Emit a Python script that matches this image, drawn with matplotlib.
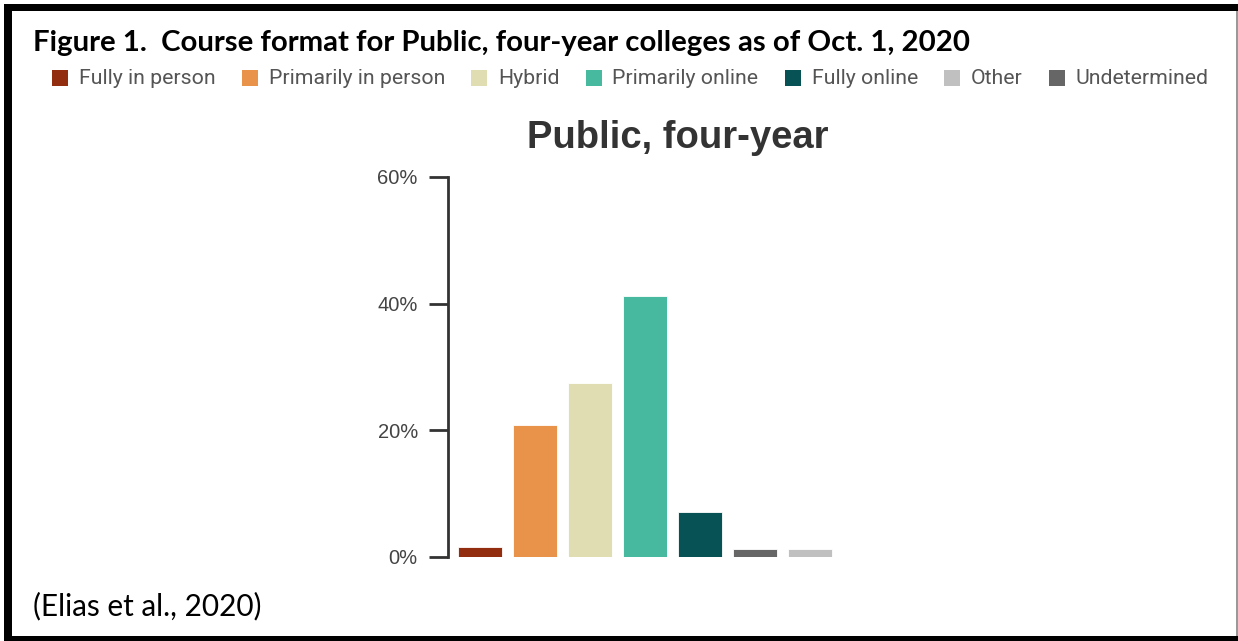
import numpy as np
import matplotlib
matplotlib.use("Agg")
import matplotlib.pyplot as plt
from matplotlib.patches import Rectangle

# data
categories = ["Fully in person", "Primarily in person", "Hybrid", "Primarily online",
              "Fully online", "Undetermined", "Other"]
values = [1.6, 20.8, 27.5, 41.2, 7.1, 1.3, 1.3]
bar_colors = ["#922e0f", "#e8924a", "#e0ddb2", "#46b99e", "#065254", "#666666", "#c0c0c0"]

legend_labels = ["Fully in person", "Primarily in person", "Hybrid", "Primarily online",
                 "Fully online", "Other", "Undetermined"]
legend_colors = ["#922e0f", "#e8924a", "#e0ddb2", "#46b99e", "#065254", "#c0c0c0", "#666666"]

yticks = [0, 20, 40, 60]

W, H = 1238, 641
fig = plt.figure(figsize=(W / 100, H / 100), dpi=100)


def px(x, y):
    # pixel coords (top-left origin) -> figure fraction
    return x / W, 1 - y / H


def frame(x0, y0, x1, y1, color):
    fig.patches.append(Rectangle((x0 / W, 1 - y1 / H), (x1 - x0) / W, (y1 - y0) / H,
                                 transform=fig.transFigure, color=color, lw=0))


# black frame around the figure
frame(4, 4, 1238, 11, "black")
frame(4, 4, 12, 641, "black")
frame(4, 636, 1238, 641, "black")
frame(1236, 11, 1238, 636, "#999999")

# heading and source line
fig.text(*px(33, 43), "Figure 1.  Course format for Public, four-year colleges as of Oct. 1, 2020",
         family="Lato", weight="bold", fontsize=21.2, va="center", ha="left", color="black")
fig.text(*px(33, 606), "(Elias et al., 2020)", family="Lato", fontsize=21.4,
         va="center", ha="left", color="black")

# legend row, placed item by item
fig.canvas.draw()
renderer = fig.canvas.get_renderer()
x = 52
yc = 78
sq = 16
for lab, col in zip(legend_labels, legend_colors):
    frame(x, yc - sq / 2, x + sq, yc + sq / 2, col)
    t = fig.text(*px(x + sq + 11, yc + 1), lab, family="Roboto", fontsize=15.3,
                 color="#555555", va="center", ha="left")
    bb = t.get_window_extent(renderer)
    x = x + sq + 11 + bb.width + 26

# bar chart
ax = fig.add_axes([448 / W, 1 - 557 / H, 389 / W, 380 / H])
xpos = np.arange(len(categories))
ax.bar(xpos, values, width=0.8, color=bar_colors, edgecolor="white", linewidth=0.6)
ax.set_xlim(-0.58, 6.5)
ax.set_ylim(0, 60)
ax.set_yticks(yticks)
ax.set_yticklabels([f"{v}%" for v in yticks], family="Liberation Sans",
                   fontsize=14.5, color="#444444")
ax.tick_params(axis="y", length=13.7, width=2, color="#333333", pad=8)
ax.set_xticks([])
for s in ["top", "right", "bottom"]:
    ax.spines[s].set_visible(False)
ax.spines["left"].set_linewidth(2)
ax.spines["left"].set_color("#333333")

fig.text(*px(678, 138), "Public, four-year", family="Liberation Sans", weight="bold",
         fontsize=27.5, color="#333333", ha="center", va="center")

fig.savefig("out.png", dpi=100)
